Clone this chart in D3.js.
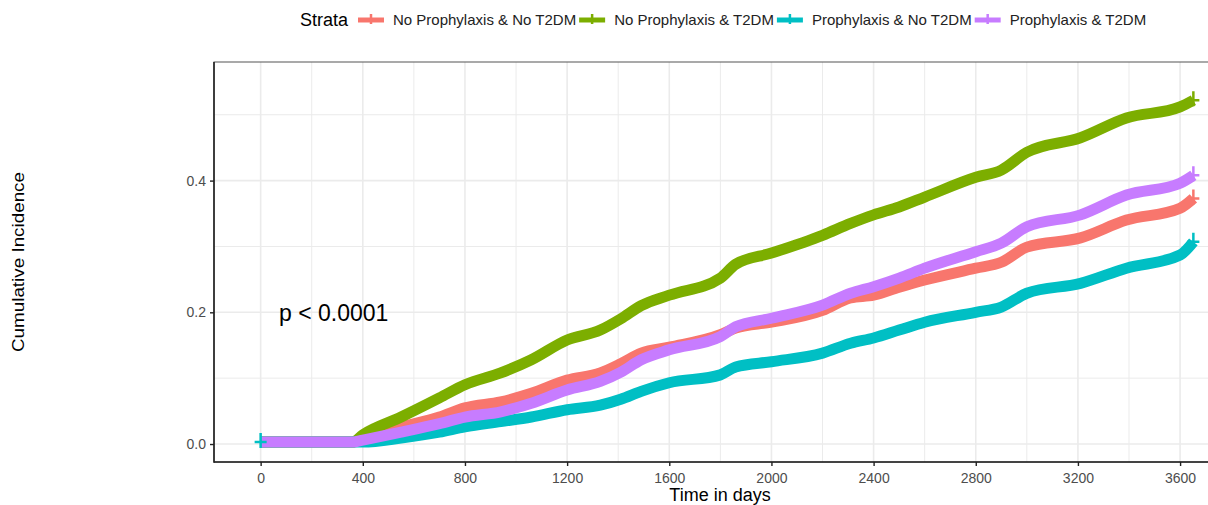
<!DOCTYPE html>
<html>
<head>
<meta charset="utf-8">
<script src="https://cdn.jsdelivr.net/npm/d3@7"></script>
<style>
body { margin: 0; background: #fff; }
text { font-family: "Liberation Sans", Arial, sans-serif; }
</style>
</head>
<body>
<script>
"use strict";
const days = [0, 360, 400, 550, 700, 800, 940, 1060, 1200, 1330, 1410, 1490, 1600, 1800, 1860, 2000, 2200, 2310, 2400, 2500, 2600, 2800, 2900, 3000, 3210, 3390, 3600, 3652];
const noProphNoT2dm = [0.003, 0.003, 0.009, 0.026, 0.041, 0.055, 0.064, 0.077, 0.097, 0.108, 0.122, 0.138, 0.147, 0.166, 0.176, 0.185, 0.203, 0.222, 0.226, 0.238, 0.249, 0.267, 0.276, 0.299, 0.313, 0.340, 0.358, 0.373];
const noProphT2dm = [0.003, 0.003, 0.014, 0.041, 0.070, 0.090, 0.108, 0.128, 0.158, 0.173, 0.190, 0.210, 0.226, 0.252, 0.273, 0.290, 0.317, 0.335, 0.348, 0.360, 0.375, 0.405, 0.416, 0.443, 0.465, 0.495, 0.512, 0.522];
const prophNoT2dm = [0.003, 0.003, 0.003, 0.009, 0.018, 0.026, 0.034, 0.041, 0.052, 0.059, 0.068, 0.080, 0.093, 0.105, 0.117, 0.125, 0.138, 0.153, 0.161, 0.173, 0.185, 0.200, 0.208, 0.229, 0.244, 0.267, 0.287, 0.307];
const prophT2dm = [0.003, 0.003, 0.006, 0.018, 0.031, 0.041, 0.049, 0.062, 0.082, 0.095, 0.109, 0.128, 0.143, 0.163, 0.178, 0.191, 0.211, 0.229, 0.239, 0.252, 0.267, 0.292, 0.305, 0.330, 0.348, 0.378, 0.396, 0.408];
const strata = ["No Prophylaxis & No T2DM", "No Prophylaxis & T2DM", "Prophylaxis & No T2DM", "Prophylaxis & T2DM"];
const colors = ["#F8766D", "#7CAE00", "#00BFC4", "#C77CFF"];
const censorDays = [[3652], [3652], [0, 3652], [3652]];
const xTicks = [0, 400, 800, 1200, 1600, 2000, 2400, 2800, 3200, 3600];
const xMinor = [200, 600, 1000, 1400, 1800, 2200, 2600, 3000, 3400, 3800];
const yTicks = [0, 0.2, 0.4];
const yMinor = [0.1, 0.3, 0.5];

const size = {"width": 1208, "height": 505};
const panel = {"left": 214, "right": 1240, "top": 62, "bottom": 462};
const values = [noProphNoT2dm, noProphT2dm, prophNoT2dm, prophT2dm];
const series = strata.map((s, i) => ({
	"name": s,
	"color": colors[i],
	"points": days.map((d, j) => ({"t": d, "v": values[i][j]})),
	"censor": censorDays[i].map(t => ({"t": t, "v": values[i][days.indexOf(t)]}))
}));

const xScale = d3.scaleLinear().domain([-182.6, 3834.6]).range([panel.left, panel.right]);
const yScale = d3.scaleLinear().domain([-0.0273, 0.5801]).range([panel.bottom, panel.top]);

const svg = d3.select("body").append("svg").attr("width", size.width).attr("height", size.height).style("display", "block");

// grid
const grid = svg.append("g");
grid.selectAll(".xminor").data(xMinor).enter().append("line")
	.attr("x1", d => xScale(d)).attr("x2", d => xScale(d))
	.attr("y1", panel.top).attr("y2", panel.bottom)
	.attr("stroke", "#ebebeb").attr("stroke-width", 1);
grid.selectAll(".yminor").data(yMinor).enter().append("line")
	.attr("x1", panel.left).attr("x2", panel.right)
	.attr("y1", d => yScale(d)).attr("y2", d => yScale(d))
	.attr("stroke", "#ebebeb").attr("stroke-width", 1);
grid.selectAll(".xmajor").data(xTicks).enter().append("line")
	.attr("x1", d => xScale(d)).attr("x2", d => xScale(d))
	.attr("y1", panel.top).attr("y2", panel.bottom)
	.attr("stroke", "#ebebeb").attr("stroke-width", 1.6);
grid.selectAll(".ymajor").data(yTicks).enter().append("line")
	.attr("x1", panel.left).attr("x2", panel.right)
	.attr("y1", d => yScale(d)).attr("y2", d => yScale(d))
	.attr("stroke", "#ebebeb").attr("stroke-width", 1.6);

svg.append("rect").attr("x", panel.left).attr("y", panel.top)
	.attr("width", panel.right - panel.left).attr("height", panel.bottom - panel.top)
	.attr("fill", "none").attr("stroke", "#555").attr("stroke-width", 1);

// curves
const line = d3.line().x(d => xScale(d.t)).y(d => yScale(d.v)).curve(d3.curveMonotoneX);
svg.append("g").selectAll("path").data(series).enter().append("path")
	.attr("d", d => line(d.points))
	.attr("fill", "none")
	.attr("stroke", d => d.color)
	.attr("stroke-width", 11)
	.attr("stroke-linejoin", "round");

// censor marks
const marks = svg.append("g");
series.forEach(s => {
	marks.selectAll(null).data(s.censor).enter().append("path")
		.attr("transform", d => "translate(" + xScale(d.t) + "," + yScale(d.v) + ")")
		.attr("d", "M-6,0H6M0,-9V6")
		.attr("stroke", s.color).attr("stroke-width", 2.5).attr("fill", "none");
});

// axes
const xAxis = d3.axisBottom(xScale).tickValues(xTicks).tickFormat(d3.format("d")).tickSize(4).tickSizeOuter(0);
const gx = svg.append("g").attr("transform", "translate(0," + panel.bottom + ")").call(xAxis);
gx.select(".domain").remove();
gx.selectAll(".tick line").attr("stroke", "#222").attr("stroke-width", 1.4);
gx.selectAll(".tick text").attr("fill", "#4d4d4d").attr("font-size", 14).attr("dy", null).attr("y", 21);

const yAxis = d3.axisLeft(yScale).tickValues(yTicks).tickFormat(d3.format(".1f")).tickSize(4).tickSizeOuter(0);
const gy = svg.append("g").attr("transform", "translate(" + panel.left + ",0)").call(yAxis);
gy.select(".domain").remove();
gy.selectAll(".tick line").attr("stroke", "#222").attr("stroke-width", 1.4);
gy.selectAll(".tick text").attr("fill", "#4d4d4d").attr("font-size", 14).attr("x", -8);

svg.append("line").attr("x1", panel.left).attr("x2", panel.left).attr("y1", panel.top).attr("y2", panel.bottom + 0.7)
	.attr("stroke", "#222").attr("stroke-width", 1.6);
svg.append("line").attr("x1", panel.left).attr("x2", panel.right).attr("y1", panel.bottom).attr("y2", panel.bottom)
	.attr("stroke", "#222").attr("stroke-width", 1.6);

// titles
svg.append("text").attr("x", 720).attr("y", 501).attr("text-anchor", "middle")
	.attr("font-size", 18).attr("fill", "#000").text("Time in days");
svg.append("text").attr("transform", "translate(24,262) rotate(-90)").attr("text-anchor", "middle")
	.attr("font-size", 17).attr("fill", "#000").attr("textLength", 180).attr("lengthAdjust", "spacingAndGlyphs")
	.text("Cumulative Incidence");
svg.append("text").attr("x", 279).attr("y", 321).attr("font-size", 23).attr("fill", "#000").text("p < 0.0001");

// legend
const legend = svg.append("g").attr("transform", "translate(0,20)");
legend.append("text").attr("x", 300).attr("y", 6).attr("font-size", 18).attr("fill", "#000").text("Strata");
let lx = 358;
series.forEach(s => {
	const item = legend.append("g").attr("transform", "translate(" + lx + ",0)");
	item.append("line").attr("x1", 0).attr("x2", 26).attr("y1", 0).attr("y2", 0)
		.attr("stroke", s.color).attr("stroke-width", 5);
	item.append("path").attr("d", "M13,-6V4").attr("stroke", s.color).attr("stroke-width", 2.5);
	const label = item.append("text").attr("x", 35).attr("y", 5).attr("font-size", 15).attr("fill", "#222").text(s.name);
	lx += 35 + label.node().getComputedTextLength() + 3;
});
</script>
</body>
</html>
